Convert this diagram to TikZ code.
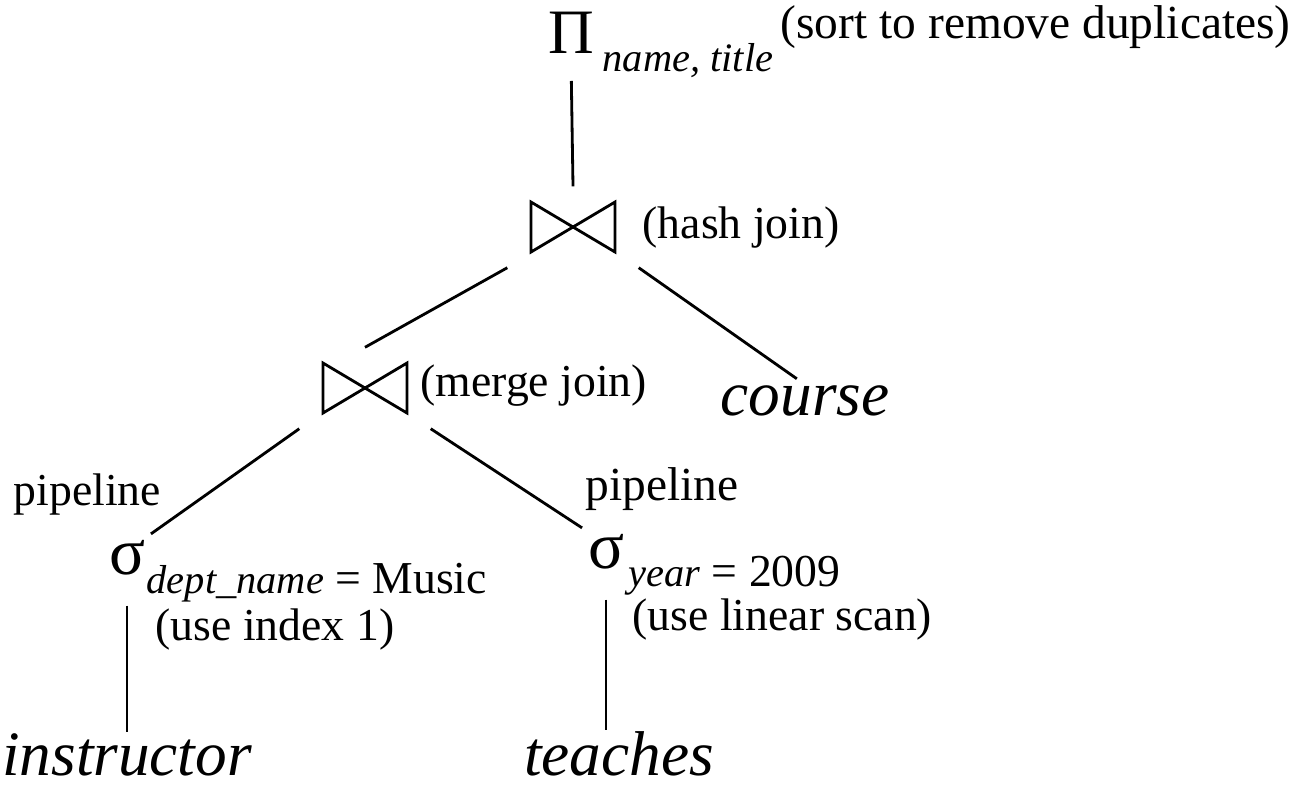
\documentclass[tikz,border=0pt]{standalone}
\usepackage{fontspec}
\setmainfont{Liberation Serif}
\usetikzlibrary{calc}
\usetikzlibrary{positioning}

\newcommand{\subfont}{\fontsize{11.5}{13}\selectfont\itshape}
\newcommand{\drawjoin}[1]{%
  \draw[treeline, line join=miter]
    ([shift={(-0.42,0.25)}]#1.center) -- ([shift={(0.42,-0.25)}]#1.center)
    -- ([shift={(0.42,0.25)}]#1.center) -- ([shift={(-0.42,-0.25)}]#1.center)
    -- cycle;}

\tikzset{
  treeline/.style={line width=0.8pt},
  notetext/.style={inner sep=0pt, font=\fontsize{13}{15}\selectfont},
  subtext/.style={inner sep=0pt, font=\subfont},
  relname/.style={inner sep=0pt, font=\fontsize{18}{20}\selectfont\itshape},
  opsym/.style={inner sep=1.5pt},
  joinop/.style={minimum width=1.3cm, minimum height=0.8cm, inner sep=0pt},
}

\begin{document}
\begin{tikzpicture}
  \useasboundingbox (0,0) rectangle (12.94,-7.87);

  % projection at the root
  \node[opsym, font=\fontsize{18}{20}\selectfont, anchor=base] (Proj) at (5.71,-0.53) {Π};
  \node[subtext, anchor=base west] (ProjSub) at (6.02,-0.71) {name, title};
  \node[notetext, font=\fontsize{13.5}{15}\selectfont, anchor=base west] (ProjNote)
    at ($(ProjSub.base east)+(0.06,0.33)$) {(sort to remove duplicates)};

  % the two joins
  \node[joinop] (HashJoin) at (5.73,-2.27) {};
  \node[notetext, anchor=west] (HashNote) at (6.42,-2.27) {(hash join)};
  \node[joinop] (MergeJoin) at (3.65,-3.88) {};
  \node[notetext, anchor=west] (MergeNote) at (4.20,-3.86) {(merge join)};
  \drawjoin{HashJoin}
  \drawjoin{MergeJoin}

  % selections
  \node[opsym, font=\fontsize{19}{21}\selectfont, anchor=base] (SelMusic) at (1.27,-5.74) {σ};
  \node[notetext, anchor=base west] (SelMusicSub) at (1.46,-5.93) {{\subfont dept\_name} = Music};
  \node[notetext, anchor=base west] (SelMusicNote) at (1.55,-6.40) {(use index 1)};
  \node[opsym, font=\fontsize{19}{21}\selectfont, anchor=base] (SelYear) at (6.06,-5.68) {σ};
  \node[notetext, anchor=base west] (SelYearSub) at (6.28,-5.86) {{\subfont year} = 2009};
  \node[notetext, anchor=base west] (SelYearNote) at (6.32,-6.30) {(use linear scan)};

  \node[notetext, anchor=base west] (PipeLeft) at (0.13,-5.05) {pipeline};
  \node[notetext, font=\fontsize{13.5}{15}\selectfont, anchor=base west] (PipeRight) at (5.85,-5.00) {pipeline};

  % relations
  \node[relname, anchor=base] (Course) at (8.05,-4.15) {course};
  \node[relname, anchor=base] (Instructor) at (1.27,-7.75) {instructor};
  \node[relname, anchor=base] (Teaches) at (6.19,-7.75) {teaches};

  % tree edges
  \draw[treeline, shorten <=0.22cm] (Proj.south) -- (HashJoin.north);
  \draw[treeline] (HashJoin.south west) -- (MergeJoin.north);
  \draw[treeline, shorten >=0.1cm] (HashJoin.south east) -- (Course.north);
  \draw[treeline] (MergeJoin.south west) -- (SelMusic.north east);
  \draw[treeline] (MergeJoin.south east) -- (SelYear.north west);
  \draw[treeline, shorten <=0.25cm] (SelMusic.south) -- (SelMusic.south |- Instructor.north);
  \draw[treeline, shorten <=0.25cm] (SelYear.south) -- (SelYear.south |- Teaches.north);
\end{tikzpicture}
\end{document}
